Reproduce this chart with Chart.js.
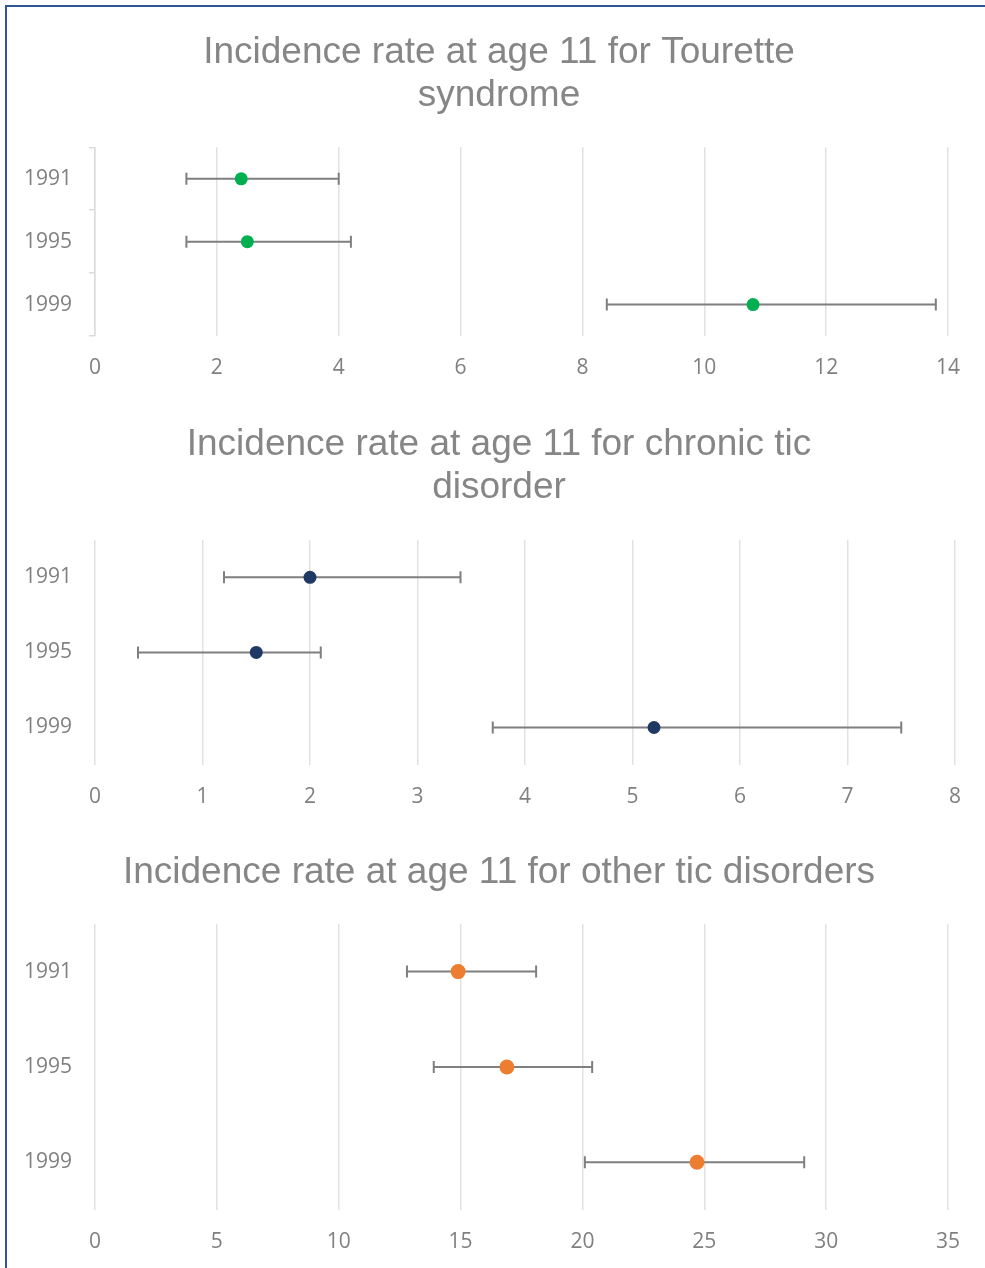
<!DOCTYPE html>
<html>
<head>
<meta charset="utf-8">
<script src="https://cdn.jsdelivr.net/npm/chart.js@4/dist/chart.umd.min.js"></script>
<style>
  html, body { margin: 0; padding: 0; background: #fff; }
  body { width: 985px; height: 1268px; position: relative; overflow: hidden; }
  .frame { position: absolute; left: 5px; top: 5px; width: 1000px; height: 1300px;
           border-left: 2px solid #2f5597; border-top: 2px solid #2f5597; }
  .box { position: absolute; left: 0; width: 985px; }
</style>
</head>
<body>
<div class="frame"></div>
<div class="box" style="top:0;height:395px"><canvas id="tourette" width="985" height="395"></canvas></div>
<div class="box" style="top:395px;height:425px"><canvas id="chronic" width="985" height="425"></canvas></div>
<div class="box" style="top:820px;height:448px"><canvas id="other" width="985" height="448"></canvas></div>
<script>
// data
const years = ['1991', '1995', '1999'];

const touretteRate = [2.4, 2.5, 10.8];
const touretteLow = [1.5, 1.5, 8.4];
const touretteHigh = [4.0, 4.2, 13.8];

const chronicRate = [2.0, 1.5, 5.2];
const chronicLow = [1.2, 0.4, 3.7];
const chronicHigh = [3.4, 2.1, 7.5];

const otherRate = [14.9, 16.9, 24.7];
const otherLow = [12.8, 13.9, 20.1];
const otherHigh = [18.1, 20.4, 29.1];

// error bars drawn under the points
const errorBars = {
    id: 'errorBars',
    beforeDatasetsDraw(chart, args, opts) {
        const ctx = chart.ctx;
        const x = chart.scales.x;
        const meta = chart.getDatasetMeta(0);
        ctx.save();
        ctx.strokeStyle = '#7f7f7f';
        ctx.lineWidth = 2;
        meta.data.forEach((pt, i) => {
            const x1 = x.getPixelForValue(opts.low[i]);
            const x2 = x.getPixelForValue(opts.high[i]);
            ctx.beginPath();
            ctx.moveTo(x1, pt.y); ctx.lineTo(x2, pt.y);
            ctx.moveTo(x1, pt.y - 6); ctx.lineTo(x1, pt.y + 6);
            ctx.moveTo(x2, pt.y - 6); ctx.lineTo(x2, pt.y + 6);
            ctx.stroke();
        });
        ctx.restore();
    }
};

function makeChart(id, cfg) {
    const left = cfg.padding.left;
    new Chart(document.getElementById(id), {
        type: 'line',
        data: {
            labels: years,
            datasets: [{
                data: cfg.rate,
                showLine: false,
                pointRadius: cfg.radius,
                pointHoverRadius: cfg.radius,
                pointBackgroundColor: cfg.color,
                pointBorderColor: cfg.color,
                pointBorderWidth: 0
            }]
        },
        options: {
            indexAxis: 'y',
            responsive: false,
            animation: false,
            layout: { padding: cfg.padding },
            plugins: {
                legend: { display: false },
                tooltip: { enabled: false },
                title: {
                    display: true,
                    text: cfg.title,
                    color: '#868686',
                    font: { family: 'Liberation Sans', size: 37, weight: 'normal', lineHeight: 1.16 },
                    padding: { top: 0, bottom: cfg.titleGap }
                },
                errorBars: { low: cfg.low, high: cfg.high }
            },
            scales: {
                x: {
                    type: 'linear',
                    min: 0,
                    max: cfg.max,
                    afterFit: function(scale) { scale.height = 44; },
                    ticks: {
                        stepSize: cfg.step,
                        padding: 19,
                        color: '#808080',
                        font: { family: 'Open Sans', size: 21 }
                    },
                    grid: { color: '#e2e2e2', lineWidth: 1.5, drawTicks: false },
                    border: { display: false }
                },
                y: {
                    type: 'category',
                    offset: true,
                    afterFit: function(scale) { scale.width = 95 - left; },
                    ticks: {
                        padding: cfg.axisLine ? 17 : 23,
                        color: '#808080',
                        font: { family: 'Open Sans', size: 21 }
                    },
                    grid: {
                        display: cfg.axisLine,
                        drawTicks: cfg.axisLine,
                        offset: true,
                        drawOnChartArea: false,
                        tickLength: 6,
                        color: '#dcdcdc',
                        lineWidth: 1.5
                    },
                    border: { display: cfg.axisLine, color: '#dcdcdc', width: 1.5 }
                },
                // empty right-hand strip so the title centres like the original
                yRight: {
                    type: 'category',
                    position: 'right',
                    afterFit: function(scale) { scale.width = cfg.rightGap; },
                    ticks: { display: false },
                    grid: { display: false, drawTicks: false },
                    border: { display: false }
                }
            }
        },
        plugins: [errorBars]
    });
}

makeChart('tourette', {
    title: ['Incidence rate at age 11 for Tourette', 'syndrome'],
    rate: touretteRate, low: touretteLow, high: touretteHigh,
    color: '#00b050', radius: 6.5, max: 14, step: 2,
    axisLine: true, titleGap: 30, rightGap: 37,
    padding: { top: 31.5, right: 0, bottom: 15, left: 13 }
});

makeChart('chronic', {
    title: ['Incidence rate at age 11 for chronic tic', 'disorder'],
    rate: chronicRate, low: chronicLow, high: chronicHigh,
    color: '#203864', radius: 6.5, max: 8, step: 1,
    axisLine: false, titleGap: 31, rightGap: 30,
    padding: { top: 28, right: 0, bottom: 11, left: 13 }
});

makeChart('other', {
    title: 'Incidence rate at age 11 for other tic disorders',
    rate: otherRate, low: otherLow, high: otherHigh,
    color: '#ed7d31', radius: 7.5, max: 35, step: 5,
    axisLine: false, titleGap: 29.5, rightGap: 37,
    padding: { top: 31.5, right: 0, bottom: 14, left: 13 }
});
</script>
</body>
</html>
